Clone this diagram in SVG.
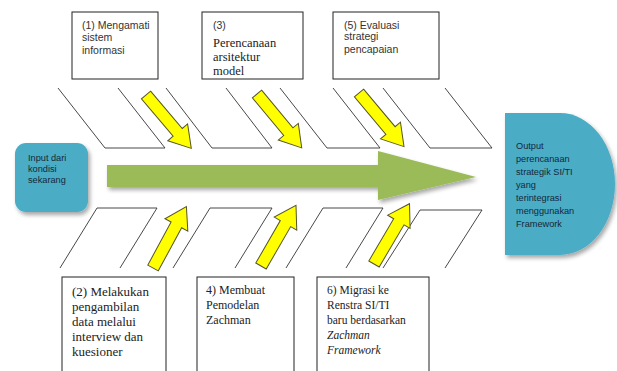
<svg xmlns="http://www.w3.org/2000/svg" width="617" height="371" viewBox="0 0 617 371">
<defs>
<filter id="sh" x="-20%" y="-20%" width="140%" height="140%">
<feGaussianBlur in="SourceAlpha" stdDeviation="2"/>
<feOffset dx="2" dy="3" result="b"/>
<feComponentTransfer><feFuncA type="linear" slope="0.35"/></feComponentTransfer>
<feMerge><feMergeNode/><feMergeNode in="SourceGraphic"/></feMerge>
</filter>
<path id="ya" d="M0,-6 H49 V-13 L70,0 L49,13 V6 H0 Z"/>
</defs>
<style>
.box{fill:#fff;stroke:#222;stroke-width:1}
.ln{fill:none;stroke:#333;stroke-width:0.9}
.yel{fill:#ffff00;stroke:#55552a;stroke-width:1}
.cal{font-family:"Liberation Sans",Arial,sans-serif;font-size:10.5px;fill:#333}
.tim{font-family:"Liberation Serif","Times New Roman",serif;fill:#222}
.nd{font-family:"Liberation Sans",Arial,sans-serif;font-size:9.2px;fill:#14293a}
</style>
<rect width="617" height="371" fill="#fff"/>

<g id="connectors">
<path class="ln" d="M58,88 L105,148 H165 M118,88 L165,148"/>
<path class="ln" d="M166,88 L212,148 H272 M226,88 L272,148"/>
<path class="ln" d="M280,88 L327,148 H380 M333,88 L380,148"/>
<path class="ln" d="M383,88 L430,148 H492 M445,88 L492,148"/>
<path class="ln" d="M60,268 L97,208 H157 M120,268 L157,208"/>
<path class="ln" d="M173,268 L210,208 H272 M235,268 L272,208"/>
<path class="ln" d="M286,268 L323,208 H383 M346,268 L383,208"/>
<path class="ln" d="M383,268 L420,210 H482 M445,268 L482,210"/>
<g id="main-arrow" filter="url(#sh)">
<path d="M107,165 H378 V151 L476,177 L378,200 V187 H107 Z" fill="#9bbb59"/>
</g>
<use href="#ya" class="yel" transform="translate(146,95) rotate(49.7)"/>
<use href="#ya" class="yel" transform="translate(257,94) rotate(50.3)"/>
<use href="#ya" class="yel" transform="translate(359,93) rotate(50)"/>
<use href="#ya" class="yel" transform="translate(153,268) rotate(-61.5)"/>
<use href="#ya" class="yel" transform="translate(261,266) rotate(-60)"/>
<use href="#ya" class="yel" transform="translate(374,264) rotate(-59.5)"/>
</g>

<g id="input">
<rect x="15" y="143" width="73" height="69" rx="11" fill="#4bacc6" filter="url(#sh)"/>
<text class="nd" x="28" y="161">Input dari</text>
<text class="nd" x="28" y="172">kondisi</text>
<text class="nd" x="28" y="183">sekarang</text>
</g>

<g id="output">
<path d="M505,113 H560 A55,71 0 0 1 560,255 H505 Z" fill="#4bacc6" filter="url(#sh)"/>
<text class="nd" x="516" y="149">Output</text>
<text class="nd" x="516" y="162">perencanaan</text>
<text class="nd" x="516" y="175">strategik SI/TI</text>
<text class="nd" x="516" y="188">yang</text>
<text class="nd" x="516" y="201">terintegrasi</text>
<text class="nd" x="516" y="214">menggunakan</text>
<text class="nd" x="516" y="227">Framework</text>
</g>

<g id="step1">
<rect class="box" x="72" y="12" width="86" height="67"/>
<text class="cal" x="82" y="29">(1) Mengamati</text>
<text class="cal" x="82" y="41">sistem</text>
<text class="cal" x="82" y="54">informasi</text>
</g>

<g id="step3">
<rect class="box" x="202" y="12" width="101" height="67"/>
<text class="cal" x="213" y="29">(3)</text>
<text class="tim" x="213" y="47" font-size="12.5">Perencanaan</text>
<text class="tim" x="213" y="61" font-size="12.5">arsitektur</text>
<text class="tim" x="213" y="75" font-size="12.5">model</text>
</g>

<g id="step5">
<rect class="box" x="333" y="12" width="106" height="67"/>
<text class="cal" x="344" y="29">(5) Evaluasi</text>
<text class="cal" x="344" y="40">strategi</text>
<text class="cal" x="344" y="53">pencapaian</text>
</g>

<g id="step2">
<rect class="box" x="62" y="277" width="104" height="100"/>
<text class="tim" x="72" y="296" font-size="13">(2) Melakukan</text>
<text class="tim" x="72" y="311" font-size="13">pengambilan</text>
<text class="tim" x="72" y="326" font-size="13">data melalui</text>
<text class="tim" x="72" y="341" font-size="13">interview dan</text>
<text class="tim" x="72" y="356" font-size="13">kuesioner</text>
</g>

<g id="step4">
<rect class="box" x="197" y="277" width="97" height="100"/>
<text class="tim" x="206" y="294" font-size="12">4) Membuat</text>
<text class="tim" x="206" y="309" font-size="12">Pemodelan</text>
<text class="tim" x="206" y="324" font-size="12">Zachman</text>
</g>

<g id="step6">
<rect class="box" x="317" y="277" width="112" height="100"/>
<text class="tim" x="327" y="294" font-size="11.5">6) Migrasi ke</text>
<text class="tim" x="327" y="309" font-size="11.5">Renstra SI/TI</text>
<text class="tim" x="327" y="324" font-size="11.5">baru berdasarkan</text>
<text class="tim" x="327" y="339" font-size="11.5" font-style="italic">Zachman</text>
<text class="tim" x="327" y="354" font-size="11.5" font-style="italic">Framework</text>
</g>
</svg>
